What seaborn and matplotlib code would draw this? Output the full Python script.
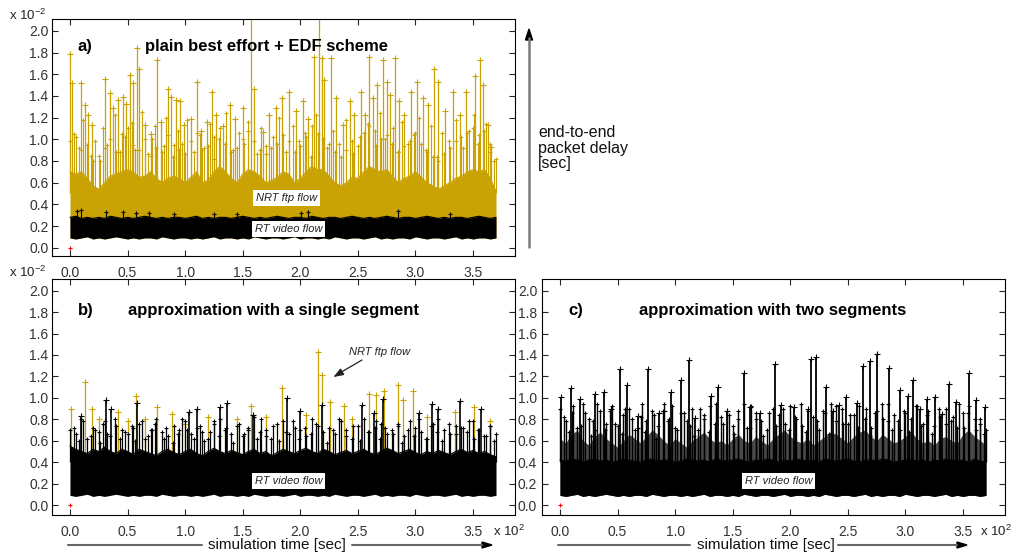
import numpy as np
import matplotlib
matplotlib.use("Agg")
import matplotlib.pyplot as plt
from matplotlib.lines import Line2D
import seaborn as sns

sns.set_style("ticks")
plt.rcParams["font.family"] = ["Liberation Sans", "DejaVu Sans"]
plt.rcParams["mathtext.fontset"] = "custom"
plt.rcParams["mathtext.rm"] = "Liberation Sans"

GOLD = "#C9A204"

# ---- data (delay in 1e-2 sec, time in 1e2 sec) ----
x_ticks = [0.0, 0.5, 1.0, 1.5, 2.0, 2.5, 3.0, 3.5]
x_labels = ["0.0", "0.5", "1.0", "1.5", "2.0", "2.5", "3.0", "3.5"]
y_ticks = [0.0, 0.2, 0.4, 0.6, 0.8, 1.0, 1.2, 1.4, 1.6, 1.8, 2.0]
y_labels = ["0.0", "0.2", "0.4", "0.6", "0.8", "1.0", "1.2", "1.4", "1.6", "1.8", "2.0"]

# envelope sampling times
t_env = np.linspace(0, 3.7, 75)

# lower edge of the RT video trace
rt_floor = [0.09, 0.08, 0.09, 0.10, 0.08, 0.09, 0.08, 0.09, 0.10, 0.09,
            0.08, 0.09, 0.08, 0.09, 0.09, 0.08, 0.10, 0.09, 0.08, 0.09,
            0.09, 0.08, 0.09, 0.08, 0.09, 0.10, 0.08, 0.09, 0.09, 0.08,
            0.09, 0.08, 0.10, 0.09, 0.08, 0.09, 0.09, 0.08, 0.09, 0.10,
            0.08, 0.09, 0.09, 0.08, 0.09, 0.08, 0.10, 0.09, 0.08, 0.09,
            0.09, 0.08, 0.09, 0.10, 0.08, 0.09, 0.08, 0.09, 0.09, 0.08,
            0.10, 0.09, 0.08, 0.09, 0.09, 0.08, 0.09, 0.10, 0.08, 0.09,
            0.08, 0.09, 0.09, 0.08, 0.09]

# times of the smaller in-between spikes
t_mid2 = [0.035, 0.075, 0.115, 0.185, 0.215, 0.265, 0.285, 0.325, 0.39, 0.435,
          0.475, 0.535, 0.565, 0.625, 0.675, 0.715, 0.735, 0.815, 0.835, 0.895,
          0.935, 0.975, 1.015, 1.075, 1.125, 1.165, 1.215, 1.255, 1.295, 1.355,
          1.415, 1.465, 1.515, 1.545, 1.625, 1.655, 1.705, 1.765, 1.815, 1.875,
          1.935, 1.985, 2.045, 2.095, 2.135, 2.235, 2.285, 2.335, 2.395, 2.455,
          2.515, 2.585, 2.655, 2.695, 2.735, 2.805, 2.845, 2.885, 2.935, 2.985,
          3.035, 3.095, 3.135, 3.185, 3.235, 3.295, 3.355, 3.415, 3.465, 3.505,
          3.545, 3.615, 3.645, 3.685]

# panel a) plain best effort + EDF
a_rt_top = [0.28, 0.29, 0.27, 0.28, 0.27, 0.28, 0.27, 0.29, 0.28, 0.27,
            0.28, 0.27, 0.28, 0.29, 0.28, 0.27, 0.28, 0.27, 0.28, 0.28,
            0.27, 0.28, 0.29, 0.27, 0.28, 0.27, 0.28, 0.28, 0.27, 0.28,
            0.29, 0.28, 0.27, 0.28, 0.27, 0.28, 0.29, 0.28, 0.27, 0.28,
            0.28, 0.27, 0.29, 0.28, 0.27, 0.28, 0.28, 0.27, 0.28, 0.29,
            0.28, 0.27, 0.28, 0.27, 0.28, 0.29, 0.28, 0.27, 0.28, 0.28,
            0.27, 0.28, 0.29, 0.28, 0.27, 0.28, 0.27, 0.28, 0.28, 0.27,
            0.28, 0.29, 0.28, 0.27, 0.28]
a_rt_spk_t = [0.06, 0.10, 0.31, 0.46, 0.57, 0.69, 0.90, 1.25, 1.45, 2.01, 2.07, 2.85, 3.30]
a_rt_spk_v = [0.34, 0.35, 0.33, 0.33, 0.32, 0.32, 0.31, 0.31, 0.31, 0.32, 0.33, 0.34, 0.31]

a_nrt_body = [0.70, 0.68, 0.70, 0.64, 0.57, 0.54, 0.60, 0.66, 0.68, 0.70,
              0.72, 0.70, 0.65, 0.66, 0.70, 0.64, 0.60, 0.64, 0.66, 0.64,
              0.60, 0.65, 0.70, 0.60, 0.62, 0.70, 0.75, 0.70, 0.64, 0.60,
              0.68, 0.72, 0.70, 0.66, 0.60, 0.62, 0.65, 0.70, 0.68, 0.60,
              0.64, 0.70, 0.75, 0.72, 0.72, 0.66, 0.60, 0.57, 0.60, 0.65,
              0.64, 0.70, 0.75, 0.72, 0.70, 0.72, 0.66, 0.60, 0.64, 0.66,
              0.70, 0.65, 0.60, 0.57, 0.54, 0.57, 0.60, 0.64, 0.66, 0.70,
              0.72, 0.70, 0.72, 0.64, 0.52]
a_nrt_mid = [0.98, 1.02, 0.90, 0.95, 0.80, 0.85, 0.92, 1.00, 0.88, 1.05,
             1.10, 0.95, 0.90, 1.00, 0.85, 0.92, 0.88, 1.04, 0.95, 0.90,
             0.86, 0.98, 1.06, 0.90, 0.94, 1.02, 1.10, 0.96, 0.88, 0.92,
             1.00, 1.08, 0.98, 0.90, 0.86, 0.92, 0.96, 1.04, 0.98, 0.88,
             0.94, 1.02, 1.12, 1.05, 1.00, 0.96, 0.88, 0.84, 0.90, 0.98,
             0.94, 1.06, 1.12, 1.08, 1.00, 1.04, 0.96, 0.88, 0.94, 0.98,
             1.06, 0.96, 0.88, 0.84, 0.80, 0.86, 0.92, 0.98, 1.02, 1.06,
             1.10, 1.04, 1.08, 0.96, 0.82]
a_nrt_mid2 = [1.05, 0.92, 1.18, 0.85, 0.98, 0.80, 1.10, 0.95, 1.22, 0.88,
              1.02, 1.15, 0.90, 1.25, 0.86, 1.00, 1.12, 0.94, 1.20, 0.84,
              1.08, 0.96, 1.18, 0.88, 1.04, 0.92, 1.14, 0.82, 1.00, 1.24,
              0.90, 1.06, 0.96, 1.16, 0.86, 1.10, 0.94, 1.02, 1.20, 0.88,
              1.12, 0.98, 1.06, 0.84, 1.22, 0.92, 1.08, 0.96, 1.18, 0.86,
              1.02, 1.14, 0.94, 1.24, 1.00, 1.10, 0.88, 1.16, 0.96, 1.04,
              1.20, 0.90, 1.12, 0.84, 1.06, 0.98, 1.18, 0.92, 1.08, 1.22,
              0.96, 1.14, 0.88, 0.80]
a_nrt_spk_t = [0.00, 0.02, 0.10, 0.13, 0.16, 0.19, 0.30, 0.345, 0.37, 0.42,
               0.46, 0.49, 0.52, 0.55, 0.58, 0.60, 0.65, 0.70, 0.755, 0.79,
               0.85, 0.875, 0.92, 0.955, 0.99, 1.05, 1.10, 1.14, 1.19, 1.23,
               1.27, 1.33, 1.39, 1.43, 1.50, 1.57, 1.60, 1.68, 1.73, 1.79,
               1.845, 1.90, 1.96, 2.02, 2.07, 2.12, 2.16, 2.19, 2.21, 2.27,
               2.31, 2.37, 2.43, 2.47, 2.53, 2.56, 2.60, 2.63, 2.67, 2.72,
               2.75, 2.78, 2.82, 2.86, 2.90, 2.96, 3.01, 3.07, 3.11, 3.16,
               3.20, 3.26, 3.33, 3.39, 3.44, 3.52, 3.56, 3.59, 3.63, 3.66]
a_nrt_spk_v = [1.79, 1.52, 1.52, 1.32, 1.22, 1.13, 1.56, 1.43, 1.29, 1.36,
               1.39, 1.33, 1.59, 1.52, 1.84, 1.65, 1.13, 1.05, 1.73, 1.16,
               1.46, 1.39, 1.36, 1.35, 1.13, 1.19, 1.53, 1.08, 1.16, 1.44,
               1.22, 1.12, 1.32, 1.19, 1.29, 2.30, 1.46, 1.07, 1.22, 1.29,
               1.38, 1.44, 1.26, 1.35, 1.19, 1.76, 2.30, 1.75, 1.55, 1.75,
               1.38, 1.13, 1.35, 1.22, 1.44, 1.22, 1.76, 1.38, 1.50, 1.73,
               1.53, 1.41, 1.75, 1.35, 1.22, 1.44, 1.53, 1.38, 1.32, 1.65,
               1.53, 1.26, 1.44, 1.22, 1.44, 1.58, 1.73, 1.50, 1.13, 0.93]

# panel b) single segment
b_rt_body = [0.55, 0.52, 0.50, 0.48, 0.52, 0.50, 0.54, 0.50, 0.48, 0.52,
             0.50, 0.47, 0.52, 0.50, 0.48, 0.46, 0.50, 0.52, 0.49, 0.47,
             0.50, 0.52, 0.48, 0.46, 0.50, 0.53, 0.50, 0.48, 0.51, 0.49,
             0.47, 0.50, 0.52, 0.48, 0.50, 0.46, 0.49, 0.52, 0.50, 0.48,
             0.51, 0.53, 0.50, 0.48, 0.52, 0.50, 0.47, 0.49, 0.51, 0.48,
             0.50, 0.52, 0.49, 0.47, 0.50, 0.53, 0.51, 0.48, 0.50, 0.52,
             0.49, 0.47, 0.50, 0.48, 0.51, 0.49, 0.47, 0.50, 0.52, 0.49,
             0.51, 0.48, 0.50, 0.47, 0.45]
b_rt_mid = [0.70, 0.66, 0.80, 0.62, 0.72, 0.68, 0.78, 0.64, 0.74, 0.70,
            0.66, 0.72, 0.76, 0.62, 0.70, 0.80, 0.68, 0.64, 0.74, 0.70,
            0.78, 0.66, 0.72, 0.68, 0.62, 0.76, 0.80, 0.70, 0.66, 0.74,
            0.64, 0.72, 0.82, 0.68, 0.70, 0.62, 0.76, 0.78, 0.66, 0.72,
            0.70, 0.64, 0.80, 0.74, 0.68, 0.72, 0.66, 0.78, 0.70, 0.62,
            0.74, 0.80, 0.68, 0.72, 0.76, 0.66, 0.70, 0.74, 0.64, 0.78,
            0.72, 0.68, 0.62, 0.76, 0.80, 0.70, 0.66, 0.74, 0.72, 0.68,
            0.78, 0.70, 0.64, 0.74, 0.66]
b_rt_mid2 = [0.72, 0.60, 0.78, 0.64, 0.70, 0.58, 0.76, 0.66, 0.80, 0.62,
             0.68, 0.74, 0.60, 0.78, 0.64, 0.70, 0.76, 0.62, 0.72, 0.58,
             0.66, 0.80, 0.70, 0.62, 0.74, 0.60, 0.68, 0.78, 0.64, 0.72,
             0.58, 0.76, 0.66, 0.70, 0.62, 0.80, 0.64, 0.74, 0.60, 0.68,
             0.78, 0.62, 0.72, 0.66, 0.76, 0.58, 0.70, 0.80, 0.64, 0.74,
             0.60, 0.68, 0.78, 0.62, 0.72, 0.66, 0.76, 0.58, 0.70, 0.64,
             0.80, 0.62, 0.74, 0.68, 0.60, 0.76, 0.66, 0.72, 0.78, 0.62,
             0.70, 0.64, 0.74, 0.60]
b_rt_spk_t = [0.10, 0.31, 0.36, 0.58, 1.03, 1.10, 1.30, 1.36, 1.59, 1.885,
              2.00, 2.19, 2.54, 2.64, 2.72, 3.03, 3.14, 3.20, 3.39, 3.57]
b_rt_spk_v = [0.83, 0.98, 0.90, 0.95, 0.87, 0.90, 0.91, 0.95, 0.84, 1.00,
              0.88, 0.93, 0.93, 0.86, 0.99, 0.86, 0.94, 0.90, 0.97, 0.90]
b_nrt_spk_t = [0.006, 0.13, 0.19, 0.25, 0.42, 0.50, 0.57, 0.65, 0.76, 0.89,
               1.00, 1.20, 1.45, 1.57, 1.70, 1.84, 2.05, 2.157, 2.19, 2.26,
               2.38, 2.45, 2.60, 2.66, 2.73, 2.85, 2.89, 2.98, 3.10, 3.34,
               3.51, 3.65]
b_nrt_spk_v = [0.90, 1.15, 0.90, 0.80, 0.87, 0.78, 1.02, 0.80, 0.91, 0.85,
               0.76, 0.82, 0.80, 0.92, 0.82, 1.09, 0.84, 1.43, 1.21, 0.96,
               0.92, 0.80, 1.04, 1.03, 1.06, 1.12, 0.98, 1.06, 0.82, 0.87,
               0.91, 0.78]

# panel c) two segments
c_rt_body = [0.42, 0.41, 0.43, 0.42, 0.40, 0.42, 0.43, 0.41, 0.42, 0.40,
             0.41, 0.43, 0.42, 0.41, 0.40, 0.42, 0.43, 0.41, 0.42, 0.42,
             0.40, 0.41, 0.43, 0.42, 0.41, 0.42, 0.40, 0.43, 0.42, 0.41,
             0.42, 0.43, 0.41, 0.40, 0.42, 0.41, 0.43, 0.42, 0.40, 0.42,
             0.41, 0.43, 0.42, 0.41, 0.42, 0.40, 0.43, 0.42, 0.41, 0.42,
             0.43, 0.41, 0.40, 0.42, 0.42, 0.41, 0.43, 0.42, 0.40, 0.41,
             0.42, 0.43, 0.41, 0.42, 0.40, 0.42, 0.41, 0.43, 0.42, 0.41,
             0.42, 0.40, 0.43, 0.41, 0.40]
c_rt_gray = [0.62, 0.58, 0.66, 0.70, 0.60, 0.56, 0.64, 0.68, 0.62, 0.58,
             0.54, 0.60, 0.66, 0.62, 0.58, 0.64, 0.70, 0.66, 0.60, 0.56,
             0.62, 0.58, 0.54, 0.60, 0.64, 0.68, 0.62, 0.58, 0.60, 0.56,
             0.62, 0.66, 0.60, 0.58, 0.64, 0.60, 0.56, 0.62, 0.66, 0.70,
             0.64, 0.60, 0.58, 0.62, 0.56, 0.60, 0.64, 0.68, 0.66, 0.62,
             0.58, 0.64, 0.68, 0.70, 0.64, 0.60, 0.66, 0.62, 0.58, 0.60,
             0.64, 0.68, 0.62, 0.58, 0.60, 0.56, 0.62, 0.64, 0.60, 0.58,
             0.66, 0.70, 0.64, 0.60, 0.56]
c_rt_mid = [0.90, 0.78, 0.86, 0.72, 0.94, 0.80, 0.70, 0.88, 0.76, 0.92,
            0.74, 0.84, 0.90, 0.70, 0.82, 0.78, 0.88, 0.74, 0.94, 0.80,
            0.72, 0.86, 0.78, 0.90, 0.70, 0.84, 0.92, 0.76, 0.82, 0.88,
            0.74, 0.80, 0.94, 0.72, 0.86, 0.78, 0.70, 0.90, 0.84, 0.76,
            0.92, 0.80, 0.74, 0.88, 0.82, 0.70, 0.86, 0.94, 0.78, 0.90,
            0.76, 0.84, 0.92, 0.80, 0.72, 0.88, 0.94, 0.78, 0.84, 0.70,
            0.86, 0.80, 0.92, 0.76, 0.88, 0.74, 0.82, 0.90, 0.78, 0.72,
            0.86, 0.92, 0.80, 0.76, 0.70]
c_rt_mid2 = [0.82, 0.68, 0.92, 0.74, 0.86, 0.64, 0.78, 0.94, 0.70, 0.88,
             0.76, 0.66, 0.90, 0.80, 0.72, 0.94, 0.68, 0.84, 0.62, 0.88,
             0.78, 0.92, 0.70, 0.86, 0.74, 0.64, 0.90, 0.80, 0.68, 0.94,
             0.76, 0.84, 0.66, 0.88, 0.72, 0.92, 0.80, 0.64, 0.86, 0.74,
             0.90, 0.70, 0.82, 0.94, 0.68, 0.78, 0.88, 0.66, 0.92, 0.76,
             0.84, 0.72, 0.90, 0.64, 0.86, 0.80, 0.94, 0.70, 0.78, 0.88,
             0.68, 0.92, 0.74, 0.84, 0.66, 0.90, 0.76, 0.82, 0.94, 0.72,
             0.86, 0.70, 0.80, 0.66]
c_rt_spk_t = [0.006, 0.096, 0.175, 0.305, 0.38, 0.44, 0.52, 0.58, 0.68, 0.763,
              0.86, 0.90, 0.96, 1.05, 1.117, 1.175, 1.31, 1.37, 1.45, 1.595,
              1.65, 1.74, 1.865, 1.92, 2.03, 2.15, 2.18, 2.22, 2.31, 2.37,
              2.42, 2.48, 2.58, 2.634, 2.69, 2.756, 2.857, 2.95, 3.02, 3.07,
              3.13, 3.19, 3.26, 3.32, 3.38, 3.44, 3.554, 3.61, 3.69]
c_rt_spk_v = [1.01, 1.09, 0.99, 1.04, 1.05, 0.90, 1.27, 1.12, 0.83, 1.27,
              0.86, 0.88, 1.05, 1.17, 1.35, 0.81, 1.02, 1.10, 0.88, 1.23,
              0.91, 0.86, 1.32, 0.93, 0.91, 0.90, 1.36, 1.38, 1.10, 0.88,
              0.93, 1.01, 0.95, 1.30, 1.34, 1.41, 1.28, 1.07, 1.02, 1.17,
              0.90, 0.99, 1.01, 0.85, 1.13, 0.96, 1.23, 0.98, 0.91]


# ---- helpers ----
W, H = 1012, 555


def fx(px):
    return px / W


def fy(py):
    return 1 - py / H


def body(ax, lo, hi, color, z):
    ax.fill_between(t_env, lo, hi, color=color, lw=0, zorder=z)
    sns.lineplot(x=t_env, y=hi, color=color, lw=0.8, ax=ax, zorder=z)


def spikes(ax, t, base, v, color, z, lw=0.9, s=16):
    ax.vlines(t, base, v, color=color, lw=lw, zorder=z)
    sns.scatterplot(x=t, y=v, marker="+", color=color, s=s, linewidth=0.8,
                    ax=ax, zorder=z, legend=False)


def frame(ax, ylim, ypad):
    ax.set_xlim(-0.156, 3.865)
    ax.set_ylim(*ylim)
    ax.set_xticks(x_ticks)
    ax.set_xticklabels(x_labels)
    ax.set_yticks(y_ticks)
    ax.set_yticklabels(y_labels)
    ax.tick_params(direction="in", top=True, right=True, length=4, width=0.8,
                   labelsize=10, labelcolor="#333333")
    ax.tick_params(axis="x", pad=7)
    ax.tick_params(axis="y", pad=ypad)
    for sp in ax.spines.values():
        sp.set_linewidth(0.8)
        sp.set_color("black")
    sns.scatterplot(x=[0.0], y=[0.0], marker="+", color="red", s=10, linewidth=0.8,
                    ax=ax, zorder=6, legend=False)


fig = plt.figure(figsize=(10.12, 5.55), dpi=100)
ax_a = fig.add_axes([0.0514, 0.5387, 0.4575, 0.4270])
ax_b = fig.add_axes([0.0514, 0.0721, 0.4575, 0.4252])
ax_c = fig.add_axes([0.5356, 0.0721, 0.4575, 0.4252])

# panel a
body(ax_a, rt_floor, a_nrt_body, GOLD, 1)
spikes(ax_a, t_env, 0.5, a_nrt_mid, GOLD, 1, lw=0.8, s=10)
spikes(ax_a, t_mid2, 0.5, a_nrt_mid2, GOLD, 1, lw=0.8, s=10)
spikes(ax_a, a_nrt_spk_t, 0.5, a_nrt_spk_v, GOLD, 1)
body(ax_a, rt_floor, a_rt_top, "black", 3)
spikes(ax_a, a_rt_spk_t, 0.25, a_rt_spk_v, "black", 3, lw=0.8, s=10)
frame(ax_a, (-0.077, 2.11), 2.5)

# panel b
spikes(ax_b, b_nrt_spk_t, 0.4, b_nrt_spk_v, GOLD, 1)
body(ax_b, rt_floor, b_rt_body, "black", 3)
spikes(ax_b, t_env, 0.4, b_rt_mid, "black", 3, lw=0.9, s=10)
spikes(ax_b, t_mid2, 0.4, b_rt_mid2, "black", 3, lw=0.9, s=10)
spikes(ax_b, b_rt_spk_t, 0.4, b_rt_spk_v, "black", 3, lw=1.2)
frame(ax_b, (-0.093, 2.109), 2.5)

# panel c
ax_c.fill_between(t_env, rt_floor, c_rt_gray, color="#4a4a4a", lw=0, zorder=2)
body(ax_c, rt_floor, c_rt_body, "black", 3)
spikes(ax_c, t_env, 0.4, c_rt_mid, "black", 3, lw=1.0, s=12)
spikes(ax_c, t_mid2, 0.4, c_rt_mid2, "black", 3, lw=1.0, s=12)
spikes(ax_c, c_rt_spk_t, 0.4, c_rt_spk_v, "black", 3, lw=1.3)
frame(ax_c, (-0.093, 2.109), 3.5)

# ---- texts ----
bold = dict(fontsize=12, fontweight="bold", va="center", ha="left", color="black")
fig.text(fx(78), fy(46), "a)", **bold)
fig.text(fx(145), fy(46), "plain best effort + EDF scheme", **bold)
fig.text(fx(78), fy(310), "b)", **bold)
fig.text(fx(128), fy(310), "approximation with a single segment", **bold)
fig.text(fx(568), fy(310), "c)", **bold)
fig.text(fx(639), fy(310), "approximation with two segments", **bold)

box = dict(facecolor="white", edgecolor="none", pad=2)
lab = dict(fontsize=8, style="italic", va="center", ha="left", color="#222222", zorder=10)
fig.text(fx(256), fy(198), "NRT ftp flow", bbox=box, **lab)
fig.text(fx(255), fy(229), "RT video flow", bbox=box, **lab)
fig.text(fx(255), fy(481), "RT video flow", bbox=box, **lab)
fig.text(fx(745), fy(481), "RT video flow", bbox=box, **lab)
fig.text(fx(349), fy(352), "NRT ftp flow", **lab)
fig.add_artist(Line2D([fx(362), fx(338)], [fy(360), fy(374)], transform=fig.transFigure,
                      color="#222222", lw=0.9))
ax_b.annotate("", xy=(fx(331), fy(378.5)), xytext=(fx(341), fy(372.5)),
              xycoords="figure fraction", textcoords="figure fraction",
              arrowprops=dict(arrowstyle="-|>,head_length=0.6,head_width=0.22",
                              color="#222222", lw=0.9))

small = dict(fontsize=9.5, va="center", ha="left", color="#222222")
fig.text(fx(9), fy(15), "x 10$^{-2}$", **small)
fig.text(fx(9), fy(272), "x 10$^{-2}$", **small)
fig.text(fx(493), fy(531), "x 10$^{2}$", **small)
fig.text(fx(980), fy(531), "x 10$^{2}$", **small)

# y-axis arrow and label
fig.add_artist(Line2D([fx(529), fx(529)], [fy(247), fy(38)], transform=fig.transFigure,
                      color="#7a7a7a", lw=1.8))
fig.add_artist(plt.Polygon([[fx(529), fy(29)], [fx(525.5), fy(40)], [fx(532.5), fy(40)]],
                           closed=True, transform=fig.transFigure, color="black"))
fig.text(fx(538), fy(125), "end-to-end\npacket delay\n[sec]", fontsize=11.5,
         va="top", ha="left", linespacing=1.05, color="#111111")

# time axis arrows and labels
for x0, x1, xt, x2, x3 in [(68, 202, 277, 352, 482), (558, 690, 766, 838, 957)]:
    fig.add_artist(Line2D([fx(x0), fx(x1)], [fy(545), fy(545)], transform=fig.transFigure,
                          color="#666666", lw=1.5))
    fig.add_artist(Line2D([fx(x2), fx(x3)], [fy(545), fy(545)], transform=fig.transFigure,
                          color="#666666", lw=1.5))
    fig.add_artist(plt.Polygon([[fx(x3 + 10), fy(545)], [fx(x3), fy(542)], [fx(x3), fy(548)]],
                               closed=True, transform=fig.transFigure, color="black"))
    fig.text(fx(xt), fy(545), "simulation time [sec]", fontsize=11,
             va="center", ha="center", color="#111111")

fig.savefig("out.png", dpi=100)
